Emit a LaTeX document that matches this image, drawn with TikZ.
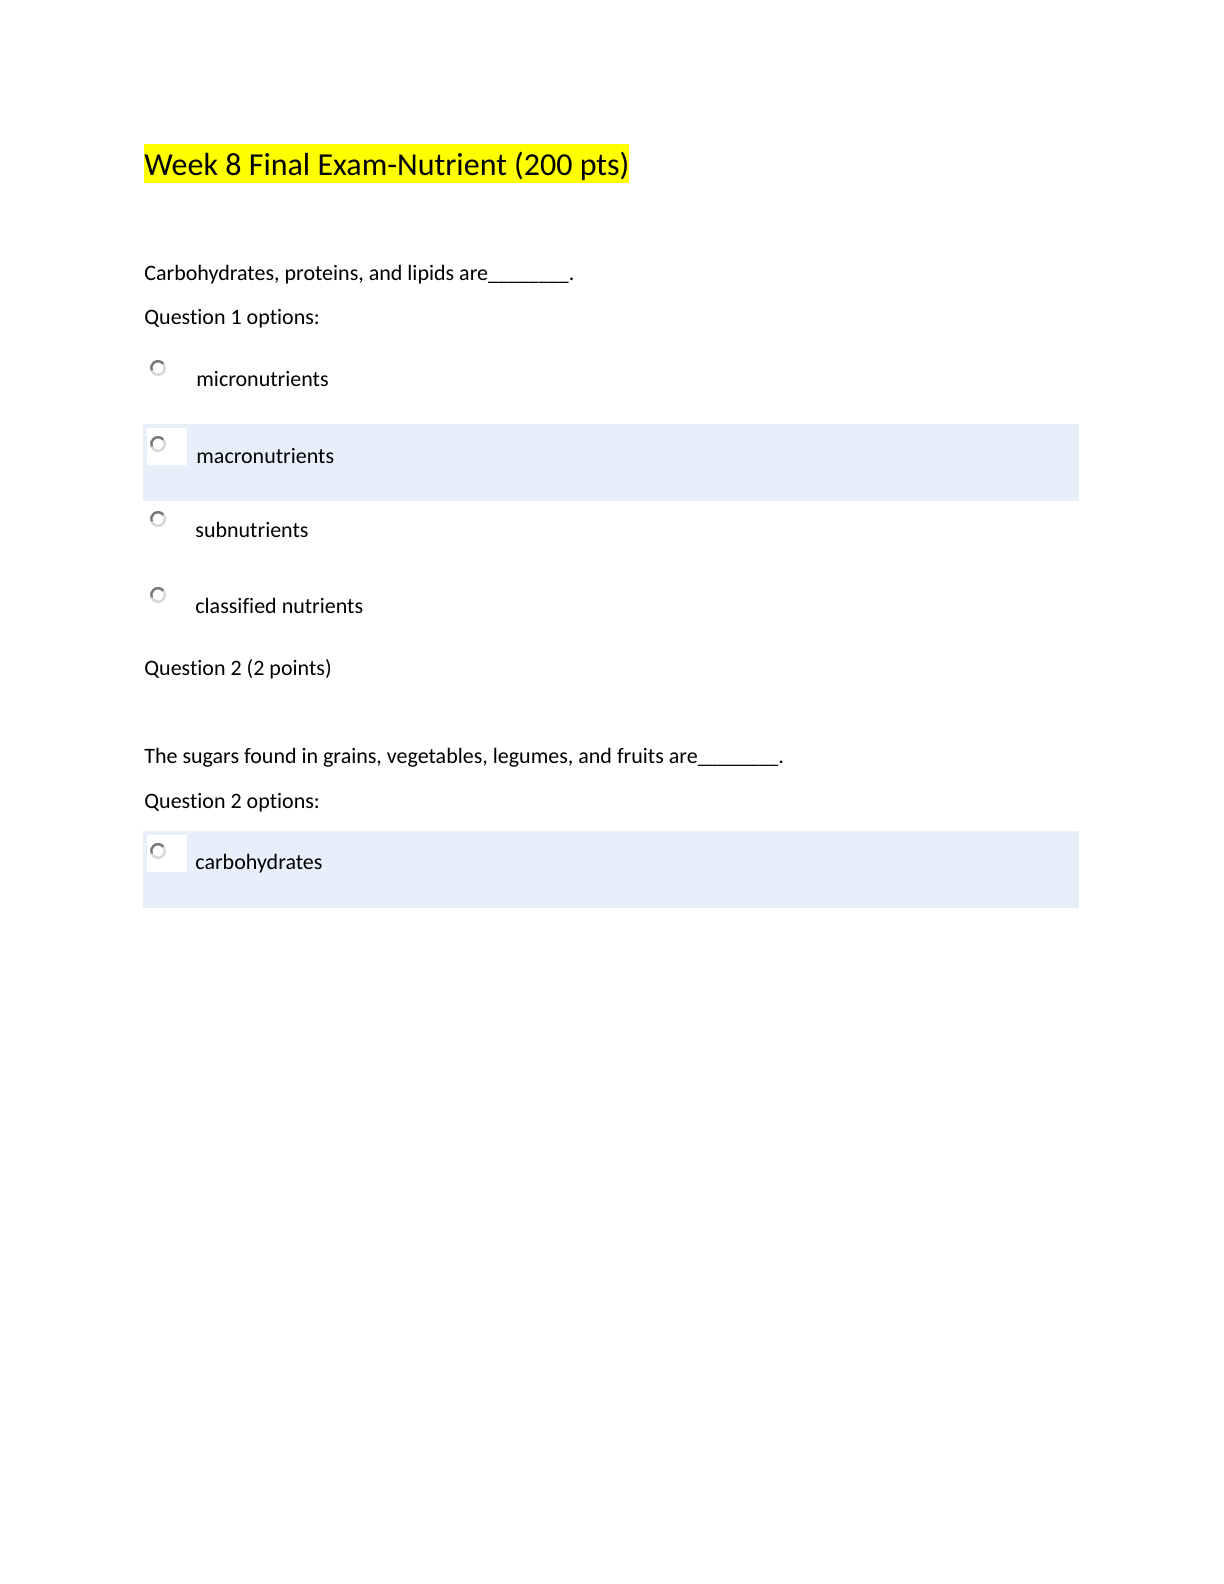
\documentclass[tikz,border=0pt]{standalone}
\usepackage{fontspec}
\setmainfont[Ligatures=CommonOff]{Carlito}
\definecolor{optbg}{RGB}{231,240,250}
\definecolor{hl}{RGB}{255,255,0}
\definecolor{rlight}{RGB}{215,215,215}
\definecolor{rdark}{RGB}{120,120,120}
\newcommand{\blankline}{\scalebox{0.92}[1]{\_\_\_\_\_\_\_\_}}
\begin{document}
\begin{tikzpicture}[x=0.5pt,y=-0.5pt,
  txt/.style={anchor=base west,inner sep=0pt,font=\fontsize{11}{13}\selectfont},
  ttl/.style={anchor=base west,inner sep=0pt,font=\fontsize{16}{19}\selectfont},
  radio/.style={circle,minimum size=6.8pt,inner sep=0pt,draw=rlight,line width=1.2pt},
  radiodark/.style={draw=rdark,line width=1.2pt},
  optbox/.style={fill=optbg,draw=none},
  wsq/.style={fill=white,draw=none}]
\fill[white] (0,0) rectangle (1224,1584);
\useasboundingbox (0,0) rectangle (1224,1584);
% title
\fill[hl] (144,144) rectangle (629,183);
\node[ttl] (title) at (144,176) {Week 8 Final Exam-Nutrient (200 pts)};
% question 1
\node[txt] (q1) at (144,280) {Carbohydrates, proteins, and lipids are\blankline.};
\node[txt] (q1o) at (144,324) {Question 1 options:};
\node[radio] (r1) at (158,368) {};
\draw[radiodark] ([shift={(40:3.4pt)}]r1.center) arc[start angle=40,end angle=200,radius=3.4pt];
\node[txt] (o1) at (196,386) {micronutrients};
\fill[optbox] (143,424) rectangle (1079,501);
\fill[wsq] (147,428) rectangle (187,465);
\node[radio] (r2) at (158,444) {};
\draw[radiodark] ([shift={(40:3.4pt)}]r2.center) arc[start angle=40,end angle=200,radius=3.4pt];
\node[txt] (o2) at (196,463) {macronutrients};
\node[radio] (r3) at (158,519) {};
\draw[radiodark] ([shift={(40:3.4pt)}]r3.center) arc[start angle=40,end angle=200,radius=3.4pt];
\node[txt] (o3) at (195,537) {subnutrients};
\node[radio] (r4) at (158,595) {};
\draw[radiodark] ([shift={(40:3.4pt)}]r4.center) arc[start angle=40,end angle=200,radius=3.4pt];
\node[txt] (o4) at (195,613) {classified nutrients};
% question 2
\node[txt] (q2h) at (144,675) {Question 2 (2 points)};
\node[txt] (q2) at (144,763) {The sugars found in grains, vegetables, legumes, and fruits are\blankline.};
\node[txt] (q2o) at (144,808) {Question 2 options:};
\fill[optbox] (143,831) rectangle (1079,908);
\fill[wsq] (147,835) rectangle (187,872);
\node[radio] (r5) at (158,851) {};
\draw[radiodark] ([shift={(40:3.4pt)}]r5.center) arc[start angle=40,end angle=200,radius=3.4pt];
\node[txt] (o5) at (195,869) {carbohydrates};
\end{tikzpicture}
\end{document}
